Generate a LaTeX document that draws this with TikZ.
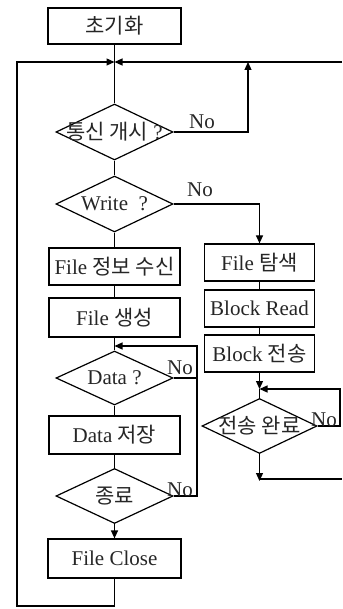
\documentclass[tikz,border=0pt]{standalone}
\usepackage{fontspec}
\setmainfont{Liberation Serif}
\newfontfamily\cjk{Noto Sans CJK KR}
\usetikzlibrary{arrows.meta,shapes.geometric}
\newcommand\kr[1]{{\cjk #1}}
\begin{document}
\begin{tikzpicture}[x=1pt,y=-1pt,
  line width=1.2pt,
  every node/.style={font=\fontsize{21pt}{25pt}\selectfont, text=black!85},
  stepbox/.style={draw=black, rectangle, inner sep=0pt, line width=1.2pt},
  dia/.style={draw=black, diamond, aspect=2, inner sep=0pt, line width=1.2pt},
  lbl/.style={inner sep=0pt},
  arr/.style={-{Triangle[length=8pt,width=7pt]}},
  ]
\useasboundingbox (0,0) rectangle (342,609);

% left column
\node[stepbox, minimum width=133pt, minimum height=36pt] (init) at (114.5,26) {\kr{초기화}};
\coordinate (m1) at (114.5,62);
\node[dia, minimum width=117pt, minimum height=56pt] (d1) at (114.5,132) {};
\node[lbl] at (d1) {\kr{통신 개시} ?};
\node[dia, minimum width=117pt, minimum height=56pt] (d2) at (114.5,204) {};
\node[lbl] at (d2) {Write\ \ ?};
\node[stepbox, minimum width=131pt, minimum height=37pt] (info) at (114.5,266.5) {File \kr{정보 수신}};
\node[stepbox, minimum width=131pt, minimum height=39pt] (create) at (114.5,317.5) {File \kr{생성}};
\coordinate (m2) at (114.5,346);
\node[dia, minimum width=117pt, minimum height=54pt] (d3) at (114.5,378) {};
\node[lbl] at (d3) {Data ?};
\node[stepbox, minimum width=131pt, minimum height=38pt] (store) at (114.5,435) {Data \kr{저장}};
\node[dia, minimum width=117pt, minimum height=55pt] (d4) at (114.5,496) {};
\node[lbl] at (d4) {\kr{종료}};
\node[stepbox, minimum width=133pt, minimum height=39pt] (close) at (114.5,558.5) {File Close};
\coordinate (loopbot) at (114.5,606);
\coordinate (loopleft) at (17,606);

% right column
\node[stepbox, minimum width=110pt, minimum height=37pt] (search) at (259.5,262.5) {File \kr{탐색}};
\node[stepbox, minimum width=110pt, minimum height=37pt] (bread) at (259.5,308.5) {Block Read};
\node[stepbox, minimum width=110pt, minimum height=37pt] (bsend) at (259.5,353.5) {Block \kr{전송}};
\coordinate (m3) at (259.5,389);
\node[dia, minimum width=115pt, minimum height=55pt] (d5) at (259.5,426) {};
\node[lbl] at (d5) {\kr{전송 완료}};
\coordinate (endpt) at (259.5,481);

% off-page connector ends
\coordinate (rtop) at (342,62);
\coordinate (rbot) at (342,479);

% main flow
\draw (init) -- (d1.north);
\draw[arr] (rtop) -- (m1);
\draw (d1) -- (d2);
\draw (d2) -- (info);
\draw (info) -- (create);
\draw (create) -- (d3.north);
\draw (d3) -- (store);
\draw (store) -- (d4);
\draw[arr] (d4) -- (close);
\draw[arr] (close.south) -- (loopbot) -- (loopleft) |- (m1);

% branches
\draw[arr] (d1.east) -| (248,62);
\draw[arr] (d2.east) -| (search.north);
\draw (search) -- (bread);
\draw (bread) -- (bsend);
\draw[arr] (bsend.south) -- (m3);
\draw (m3) -- (d5.north);
\draw[arr] (d5.south) -- (endpt);
\draw (259.5,479) -- (rbot);
\draw[arr] (d5.east) -| (340,389) -- (m3);
\draw[arr] (d3.east) -| (197,346) -- (m2);
\draw (d4.east) -| (197,346);

% branch labels
\node[lbl] at (202,122) {No};
\node[lbl] at (200,190) {No};
\node[lbl] at (180,368) {No};
\node[lbl] at (180,490) {No};
\node[lbl] at (324,420) {No};
\end{tikzpicture}
\end{document}
